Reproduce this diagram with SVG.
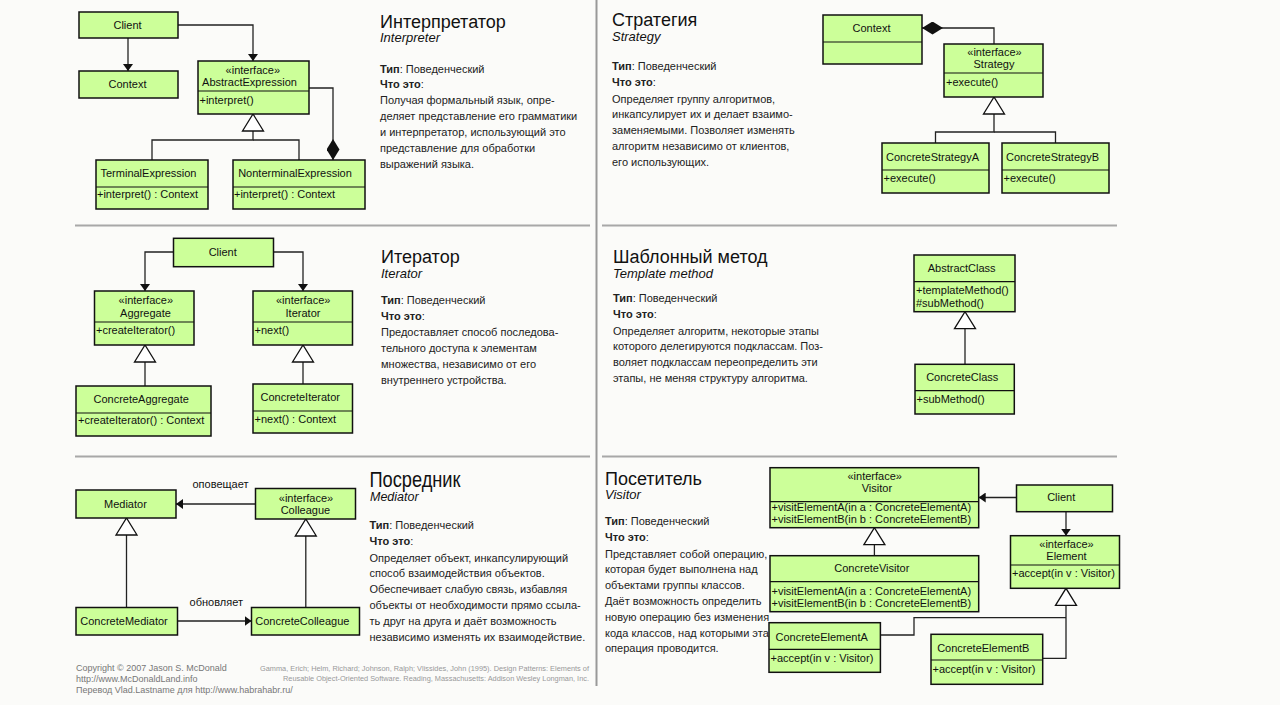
<svg xmlns="http://www.w3.org/2000/svg" width="1280" height="705" viewBox="0 0 1280 705">
<style>
.bg{fill:#fbfbf9}
.box{fill:#ccff99;stroke:#111;stroke-width:1.5}
.sep{stroke:#111;stroke-width:1.2}
.div{stroke:#a8a8a8;stroke-width:2}
.vdiv{stroke:#999;stroke-width:2}
.conn{fill:none;stroke:#222;stroke-width:1.3}
text{font-family:"Liberation Sans",Arial,Helvetica,sans-serif}
.t{font-size:11px;fill:#111}
.c{text-anchor:middle}
.title{font-size:18px;fill:#111}
.it{font-size:13px;font-style:italic;fill:#111}
.b{font-size:11px;fill:#222}
.bold{font-weight:bold}
.lbl{font-size:11px;fill:#111;text-anchor:middle}
.foot{font-size:9px;fill:#777}
.ref{font-size:7.5px;fill:#999}
</style>
<defs>
<marker id="arr" viewBox="0 0 7 10" refX="7" refY="5" markerWidth="7" markerHeight="10" markerUnits="userSpaceOnUse" orient="auto"><path d="M0,0 L7,5 L0,10 z" fill="#111"/></marker>
<marker id="gen" viewBox="0 0 17 21" refX="17" refY="10.5" markerWidth="17" markerHeight="21" markerUnits="userSpaceOnUse" orient="auto" overflow="visible"><path d="M0,0 L17,10.5 L0,21 z" fill="#fff" stroke="#111" stroke-width="1.3"/></marker>
<marker id="dia" viewBox="0 0 21 13" refX="21" refY="6.5" markerWidth="21" markerHeight="13" markerUnits="userSpaceOnUse" orient="auto"><path d="M0,6.5 L10.5,0 L21,6.5 L10.5,13 z" fill="#111"/></marker>
</defs>
<rect class="bg" x="0" y="0" width="1280" height="705"/>

<g id="dividers">
<line class="vdiv" x1="596.5" y1="0" x2="596.5" y2="686"/>
<line class="div" x1="75" y1="225.5" x2="590" y2="225.5"/>
<line class="div" x1="602" y1="225.5" x2="1117" y2="225.5"/>
<line class="div" x1="75" y1="456.5" x2="590" y2="456.5"/>
<line class="div" x1="602" y1="456.5" x2="1117" y2="456.5"/>
</g>

<g id="connectors">
<!-- Interpreter -->
<path class="conn" d="M128,38 V71" marker-end="url(#arr)"/>
<path class="conn" d="M178,25 H253 V61" marker-end="url(#arr)"/>
<path class="conn" d="M152,160 V140 H253 V114" marker-end="url(#gen)"/>
<path class="conn" d="M299,160 V140 H253"/>
<path class="conn" d="M309,88 H333 V160" marker-end="url(#dia)"/>
<!-- Strategy -->
<path class="conn" d="M994,44 V28 H922" marker-end="url(#dia)"/>
<path class="conn" d="M935.5,143 V132 H994 V97" marker-end="url(#gen)"/>
<path class="conn" d="M1055.5,143 V132 H994"/>
<!-- Iterator -->
<path class="conn" d="M173.5,252 H145 V291" marker-end="url(#arr)"/>
<path class="conn" d="M273.5,252 H303 V291" marker-end="url(#arr)"/>
<path class="conn" d="M145,386 V345" marker-end="url(#gen)"/>
<path class="conn" d="M303,384 V345" marker-end="url(#gen)"/>
<!-- Template method -->
<path class="conn" d="M965,364.3 V311.7" marker-end="url(#gen)"/>
<!-- Mediator -->
<path class="conn" d="M255.5,504 H176" marker-end="url(#arr)"/>
<path class="conn" d="M177.5,621 H251.5" marker-end="url(#arr)"/>
<path class="conn" d="M126.5,607.5 V518" marker-end="url(#gen)"/>
<path class="conn" d="M305.8,607.5 V519" marker-end="url(#gen)"/>
<text class="lbl" x="220.5" y="488">оповещает</text>
<text class="lbl" x="216.3" y="605.5">обновляет</text>
<!-- Visitor -->
<path class="conn" d="M1016.5,497.5 H978.7" marker-end="url(#arr)"/>
<path class="conn" d="M1066,511.7 V535.7" marker-end="url(#arr)"/>
<path class="conn" d="M874.4,555.7 V527.7" marker-end="url(#gen)"/>
<path class="conn" d="M1042.7,658.3 H1066 V588.3" marker-end="url(#gen)"/>
<path class="conn" d="M880.4,635 H914 V617.7 H1066"/>
</g>

<!-- ===== Interpreter ===== -->
<g id="i-client"><rect class="box" x="79" y="12" width="99" height="26"/><text class="t c" x="127.5" y="29">Client</text></g>
<g id="i-context"><rect class="box" x="79" y="71" width="99" height="27"/><text class="t c" x="127.5" y="88">Context</text></g>
<g id="i-abstract"><rect class="box" x="198" y="61" width="111" height="53"/><line class="sep" x1="198" y1="91" x2="309" y2="91"/>
<text class="t c" x="252.8" y="73.5">«interface»</text><text class="t c" x="249.5" y="86">AbstractExpression</text><text class="t" x="199.5" y="103.5">+interpret()</text></g>
<g id="i-terminal"><rect class="box" x="96" y="160" width="112" height="49"/><line class="sep" x1="96" y1="187" x2="208" y2="187"/>
<text class="t c" x="148.5" y="176.5">TerminalExpression</text><text class="t" x="97" y="197.5">+interpret() : Context</text></g>
<g id="i-nonterminal"><rect class="box" x="233" y="160" width="132" height="49"/><line class="sep" x1="233" y1="187" x2="365" y2="187"/>
<text class="t c" x="295" y="176.5">NonterminalExpression</text><text class="t" x="234" y="197.5">+interpret() : Context</text></g>

<g id="i-text">
<text class="title" x="380" y="28">Интерпретатор</text>
<text class="it" x="380" y="42">Interpreter</text>
<text class="b" x="380" y="72.5"><tspan class="bold">Тип</tspan>: Поведенческий</text>
<text class="b" x="380" y="88"><tspan class="bold">Что это</tspan>:</text>
<text class="b" x="380" y="103.5">Получая формальный язык, опре-</text>
<text class="b" x="380" y="119.5">деляет представление его грамматики</text>
<text class="b" x="380" y="135.5">и интерпретатор, использующий это</text>
<text class="b" x="380" y="151.5">представление для обработки</text>
<text class="b" x="380" y="167.5">выражений языка.</text>
</g>

<!-- ===== Strategy ===== -->
<g id="s-context"><rect class="box" x="823" y="15" width="99" height="49"/><line class="sep" x1="823" y1="42" x2="922" y2="42"/><text class="t c" x="871.5" y="31.7">Context</text></g>
<g id="s-strategy"><rect class="box" x="944" y="44" width="99" height="53"/><line class="sep" x1="944" y1="73" x2="1043" y2="73"/>
<text class="t c" x="994.5" y="55.5">«interface»</text><text class="t c" x="994" y="68">Strategy</text><text class="t" x="946" y="85.5">+execute()</text></g>
<g id="s-concA"><rect class="box" x="882" y="143" width="107" height="50"/><line class="sep" x1="882" y1="170" x2="989" y2="170"/>
<text class="t c" x="932.5" y="160.5">ConcreteStrategyA</text><text class="t" x="883.5" y="182">+execute()</text></g>
<g id="s-concB"><rect class="box" x="1002" y="143" width="107" height="50"/><line class="sep" x1="1002" y1="170" x2="1109" y2="170"/>
<text class="t c" x="1052.5" y="160.5">ConcreteStrategyB</text><text class="t" x="1003.5" y="182">+execute()</text></g>

<g id="s-text">
<text class="title" x="612" y="26">Стратегия</text>
<text class="it" x="612" y="40.5">Strategy</text>
<text class="b" x="612" y="70"><tspan class="bold">Тип</tspan>: Поведенческий</text>
<text class="b" x="612" y="86"><tspan class="bold">Что это</tspan>:</text>
<text class="b" x="612" y="102.5">Определяет группу алгоритмов,</text>
<text class="b" x="612" y="118.3">инкапсулирует их и делает взаимо-</text>
<text class="b" x="612" y="134.1">заменяемыми. Позволяет изменять</text>
<text class="b" x="612" y="149.9">алгоритм независимо от клиентов,</text>
<text class="b" x="612" y="165.7">его использующих.</text>
</g>

<!-- ===== Iterator ===== -->
<g id="it-client"><rect class="box" x="173.5" y="238.3" width="100" height="28.4"/><text class="t c" x="222.7" y="256">Client</text></g>
<g id="it-aggregate"><rect class="box" x="94.5" y="291" width="99.5" height="54"/><line class="sep" x1="94.5" y1="322" x2="194" y2="322"/>
<text class="t c" x="145.8" y="304">«interface»</text><text class="t c" x="145.5" y="317">Aggregate</text><text class="t" x="96" y="334">+createIterator()</text></g>
<g id="it-iterator"><rect class="box" x="253" y="291" width="99.5" height="54"/><line class="sep" x1="253" y1="322" x2="352.5" y2="322"/>
<text class="t c" x="303.2" y="304">«interface»</text><text class="t c" x="303" y="317">Iterator</text><text class="t" x="254.5" y="334">+next()</text></g>
<g id="it-concagg"><rect class="box" x="76" y="386" width="135" height="50"/><line class="sep" x1="76" y1="413" x2="211" y2="413"/>
<text class="t c" x="141.2" y="403">ConcreteAggregate</text><text class="t" x="78" y="424">+createIterator() : Context</text></g>
<g id="it-conciter"><rect class="box" x="253" y="384" width="99.5" height="49"/><line class="sep" x1="253" y1="411" x2="352.5" y2="411"/>
<text class="t c" x="300.2" y="401">ConcreteIterator</text><text class="t" x="254.5" y="423">+next() : Context</text></g>

<g id="it-text">
<text class="title" x="381" y="262.5">Итератор</text>
<text class="it" x="381" y="278">Iterator</text>
<text class="b" x="381" y="303.5"><tspan class="bold">Тип</tspan>: Поведенческий</text>
<text class="b" x="381" y="319.5"><tspan class="bold">Что это</tspan>:</text>
<text class="b" x="381" y="336">Предоставляет способ последова-</text>
<text class="b" x="381" y="352">тельного доступа к элементам</text>
<text class="b" x="381" y="368">множества, независимо от его</text>
<text class="b" x="381" y="384">внутреннего устройства.</text>
</g>

<!-- ===== Template method ===== -->
<g id="t-abstract"><rect class="box" x="914" y="255" width="101" height="56.7"/><line class="sep" x1="914" y1="281.7" x2="1015" y2="281.7"/>
<text class="t c" x="961.7" y="272.3">AbstractClass</text><text class="t" x="916" y="294">+templateMethod()</text><text class="t" x="916" y="307">#subMethod()</text></g>
<g id="t-concrete"><rect class="box" x="915" y="364.3" width="99.3" height="49.7"/><line class="sep" x1="915" y1="390.7" x2="1014.3" y2="390.7"/>
<text class="t c" x="962.2" y="381.3">ConcreteClass</text><text class="t" x="916.5" y="403">+subMethod()</text></g>

<g id="t-text">
<text class="title" x="613" y="263">Шаблонный метод</text>
<text class="it" x="613" y="278">Template method</text>
<text class="b" x="613" y="301.5"><tspan class="bold">Тип</tspan>: Поведенческий</text>
<text class="b" x="613" y="317.5"><tspan class="bold">Что это</tspan>:</text>
<text class="b" x="613" y="334.5">Определяет алгоритм, некоторые этапы</text>
<text class="b" x="613" y="350.3">которого делегируются подклассам. Поз-</text>
<text class="b" x="613" y="366.1">воляет подклассам переопределить эти</text>
<text class="b" x="613" y="381.9">этапы, не меняя структуру алгоритма.</text>
</g>

<!-- ===== Mediator ===== -->
<g id="m-mediator"><rect class="box" x="76" y="490" width="100" height="28"/><text class="t c" x="125.4" y="508">Mediator</text></g>
<g id="m-colleague"><rect class="box" x="255.5" y="488.5" width="100" height="30.5"/>
<text class="t c" x="306" y="501.5">«interface»</text><text class="t c" x="305.4" y="514">Colleague</text></g>
<g id="m-concmed"><rect class="box" x="76" y="607.5" width="101.5" height="27.5"/><text class="t c" x="124" y="624.7">ConcreteMediator</text></g>
<g id="m-conccol"><rect class="box" x="251.5" y="607.5" width="108" height="27.5"/><text class="t c" x="302.3" y="624.7">ConcreteColleague</text></g>

<g id="m-text">
<text class="title" x="369.5" y="487" style="font-size:22px" textLength="91" lengthAdjust="spacingAndGlyphs">Посредник</text>
<text class="it" x="370" y="500.5" style="font-size:12.5px">Mediator</text>
<text class="b" x="369.5" y="529"><tspan class="bold">Тип</tspan>: Поведенческий</text>
<text class="b" x="369.5" y="545"><tspan class="bold">Что это</tspan>:</text>
<text class="b" x="369.5" y="561.5">Определяет объект, инкапсулирующий</text>
<text class="b" x="369.5" y="577.3">способ взаимодействия объектов.</text>
<text class="b" x="369.5" y="593.1">Обеспечивает слабую связь, избавляя</text>
<text class="b" x="369.5" y="608.9">объекты от необходимости прямо ссыла-</text>
<text class="b" x="369.5" y="624.7">ть друг на друга и даёт возможность</text>
<text class="b" x="369.5" y="640.5">независимо изменять их взаимодействие.</text>
</g>

<!-- ===== Visitor ===== -->
<g id="v-visitor"><rect class="box" x="770" y="467.7" width="208.7" height="60"/><line class="sep" x1="770" y1="501.7" x2="978.7" y2="501.7"/>
<text class="t c" x="874.7" y="480">«interface»</text><text class="t c" x="876.9" y="492.3">Visitor</text>
<text class="t" x="771.5" y="510.5">+visitElementA(in a : ConcreteElementA)</text><text class="t" x="771.5" y="522.5">+visitElementB(in b : ConcreteElementB)</text></g>
<g id="v-client"><rect class="box" x="1016.5" y="485" width="96" height="26.7"/><text class="t c" x="1061.2" y="501.3">Client</text></g>
<g id="v-element"><rect class="box" x="1010.5" y="535.7" width="109" height="52.6"/><line class="sep" x1="1010.5" y1="565" x2="1119.5" y2="565"/>
<text class="t c" x="1066.5" y="548.3">«interface»</text><text class="t c" x="1066.5" y="560">Element</text><text class="t" x="1012" y="577.3">+accept(in v : Visitor)</text></g>
<g id="v-concvisitor"><rect class="box" x="770" y="555.7" width="208.7" height="56"/><line class="sep" x1="770" y1="581.7" x2="978.7" y2="581.7"/>
<text class="t c" x="871.8" y="572.3">ConcreteVisitor</text>
<text class="t" x="771.5" y="594.7">+visitElementA(in a : ConcreteElementA)</text><text class="t" x="771.5" y="606.7">+visitElementB(in b : ConcreteElementB)</text></g>
<g id="v-cea"><rect class="box" x="769" y="622.7" width="111.4" height="49.6"/><line class="sep" x1="769" y1="649.3" x2="880.4" y2="649.3"/>
<text class="t c" x="821.7" y="640.7">ConcreteElementA</text><text class="t" x="770.5" y="661.7">+accept(in v : Visitor)</text></g>
<g id="v-ceb"><rect class="box" x="931" y="634.3" width="111.7" height="50"/><line class="sep" x1="931" y1="660" x2="1042.7" y2="660"/>
<text class="t c" x="983.3" y="651.7">ConcreteElementB</text><text class="t" x="932.5" y="673.3">+accept(in v : Visitor)</text></g>

<g id="v-text">
<text class="title" x="605" y="485">Посетитель</text>
<text class="it" x="605" y="499">Visitor</text>
<text class="b" x="605" y="525"><tspan class="bold">Тип</tspan>: Поведенческий</text>
<text class="b" x="605" y="541"><tspan class="bold">Что это</tspan>:</text>
<text class="b" x="605" y="557.5">Представляет собой операцию,</text>
<text class="b" x="605" y="573.3">которая будет выполнена над</text>
<text class="b" x="605" y="589.1">объектами группы классов.</text>
<text class="b" x="605" y="604.9">Даёт возможность определить</text>
<text class="b" x="605" y="620.7">новую операцию без изменения</text>
<text class="b" x="605" y="636.5">кода классов, над которыми эта</text>
<text class="b" x="605" y="652.3">операция проводится.</text>
</g>

<!-- ===== Footer ===== -->
<g id="footer">
<text class="foot" x="76" y="670.5">Copyright © 2007 Jason S. McDonald</text>
<text class="foot" x="76" y="681.5">http://www.McDonaldLand.info</text>
<text class="foot" x="76" y="692.5">Перевод Vlad.Lastname для http://www.habrahabr.ru/</text>
<text class="ref" x="260" y="670.5" textLength="329" lengthAdjust="spacingAndGlyphs">Gamma, Erich; Helm, Richard; Johnson, Ralph; Vlissides, John (1995). Design Patterns: Elements of</text>
<text class="ref" x="283" y="680.5" textLength="306" lengthAdjust="spacingAndGlyphs">Reusable Object-Oriented Software. Reading, Massachusetts: Addison Wesley Longman, Inc.</text>
</g>
</svg>
